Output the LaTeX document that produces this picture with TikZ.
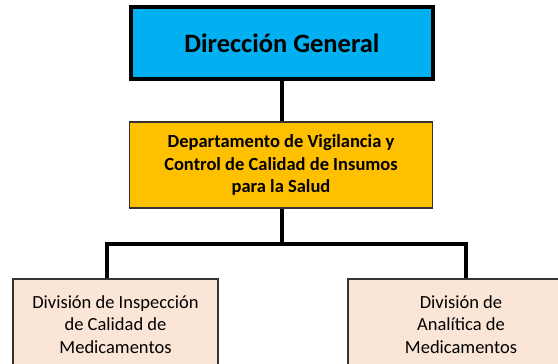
\documentclass[tikz,border=0pt]{standalone}
\usepackage{fontspec}
\setmainfont{Carlito}
\definecolor{azul}{HTML}{00B0F0}
\definecolor{oro}{HTML}{FFC000}
\definecolor{durazno}{HTML}{FBE5D6}
\begin{document}
\begin{tikzpicture}[x=1pt, y=-1pt,
    caja/.style={draw=black!80, line width=1.2pt, align=center, inner sep=0pt},
    enlace/.style={line width=3.5pt}]
    \useasboundingbox (0,0) rectangle (558,364);
    \clip (0,0) rectangle (558,364);

    % Dirección General
    \node[caja, draw=black, line width=4.5pt, fill=azul, minimum width=302pt, minimum height=72pt,
          font=\fontsize{26.5}{30}\selectfont\bfseries] (dg) at (282,43) {Dirección General};

    % Departamento
    \node[caja, fill=oro, minimum width=303pt, minimum height=86pt,
          font=\fontsize{18.5}{22.2}\selectfont\bfseries] (dep) at (281,165)
          {Departamento de Vigilancia y\\Control de Calidad de Insumos\\para la Salud};

    % Divisiones
    \node[caja, fill=durazno, minimum width=205pt, minimum height=91pt,
          font=\fontsize{18.5}{22.7}\selectfont] (insp) at (115.5,324.5)
          {División de Inspección\\de Calidad de\\Medicamentos};
    \node[caja, fill=durazno, minimum width=226pt, minimum height=91pt,
          font=\fontsize{18.5}{22.7}\selectfont] (anal) at (461,324.5)
          {División de\\Analítica de\\Medicamentos};

    % Conectores
    \coordinate (rama) at (282,244);
    \draw[enlace] (dg.south -| rama) -- (dep.north -| rama);
    \draw[enlace] (dep.south -| rama) -- (rama);
    \draw[enlace] (insp.north -| 107,0) |- (rama) -| (anal.north -| 466,0);
\end{tikzpicture}
\end{document}
